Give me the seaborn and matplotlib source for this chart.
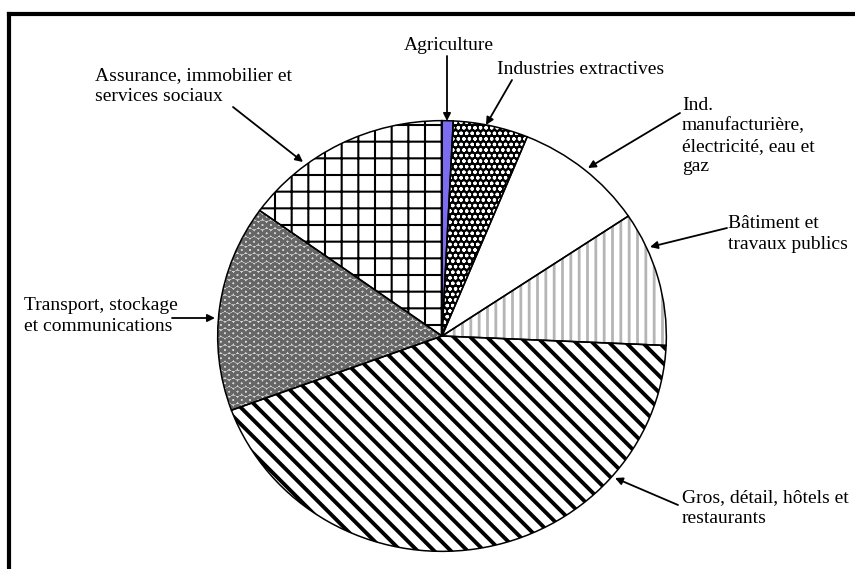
import matplotlib
matplotlib.use("Agg")
import matplotlib.pyplot as plt
import seaborn as sns
from matplotlib.lines import Line2D

sns.set_theme(style="white")
plt.rcParams['font.family'] = ['Liberation Serif', 'DejaVu Serif']

# ---- data ----
sectors = ["Agriculture", "Industries extractives",
           "Ind. manufacturière, électricité, eau et gaz",
           "Bâtiment et travaux publics",
           "Gros, détail, hôtels et restaurants",
           "Transport, stockage et communications",
           "Assurance, immobilier et services sociaux"]
shares = [0.8, 5.4, 9.4, 10.1, 43.7, 15.5, 15.1]
labels = ["Agriculture", "Industries extractives",
          "Ind.\nmanufacturière,\nélectricité, eau et\ngaz",
          "Bâtiment et\ntravaux publics",
          "Gros, détail, hôtels et\nrestaurants",
          "Transport, stockage\net communications",
          "Assurance, immobilier et\nservices sociaux"]

faces = ["#7b6cf0", "black", "white", "white", "white", "#d6d6d6", "white"]
hatches = [None, "ooo", None, "||", "\\\\", "OO", "+"]
hatch_cols = ["#7b6cf0", "white", "white", "#b5b5b5", "black", "#666666", "black"]
hatch_lws = [1.0, 0.9, 1.0, 2.0, 2.8, 2.0, 1.5]

W, H = 855, 569
fig = plt.figure(figsize=(W / 100, H / 100), dpi=100)
fig.patch.set_facecolor("white")

# pie axes (slightly elliptical like the reference)
cx, cy, rx, ry = 442, 336, 225, 216
ax = fig.add_axes([(cx - rx) / W, (H - cy - ry) / H, 2 * rx / W, 2 * ry / H])
wedges, _ = ax.pie(shares, startangle=90, counterclock=False, radius=1,
                   colors=faces, wedgeprops=dict(linewidth=0))
for w, h, hc, lw in zip(wedges, hatches, hatch_cols, hatch_lws):
    w.set_edgecolor(hc)
    if h:
        w.set_hatch(h)
        if hasattr(w, "set_hatch_linewidth"):
            w.set_hatch_linewidth(lw)
outl, _ = ax.pie(shares, startangle=90, counterclock=False, radius=1,
                 colors=["none"] * len(shares),
                 wedgeprops=dict(linewidth=1.1, edgecolor="black", facecolor="none"))
ax.set_xlim(-1.003, 1.003)
ax.set_ylim(-1.003, 1.003)
ax.set_aspect("auto")
ax.axis("off")

# ---- labels and arrows (figure pixel coordinates, y from top) ----
def fp(x, y):
    return (x, H - y)

text_pos = [(449, 45, "center", "center"),
            (497, 70, "left", "center"),
            (682, 136, "left", "center"),
            (728, 234, "left", "center"),
            (682, 508, "left", "center"),
            (178, 316, "right", "center"),
            (95, 86, "left", "center")]
arrows = [((447, 56), (447, 121)),
          ((512, 80), (486, 125)),
          ((680, 113), (588, 168)),
          ((727, 228), (650, 247)),
          ((678, 505), (615, 478)),
          ((172, 318), (215, 318)),
          ((233, 107), (303, 162))]

for lab, (x, y, ha, va) in zip(labels, text_pos):
    fig.text(x / W, (H - y) / H, lab, ha=ha, va=va, fontsize=14,
             color="black", linespacing=1.25, multialignment="left")

for (t, h) in arrows:
    ax.annotate("", xy=fp(*h), xycoords="figure pixels",
                xytext=fp(*t), textcoords="figure pixels",
                arrowprops=dict(arrowstyle="-|>", color="black", lw=1.3,
                                mutation_scale=11, shrinkA=0, shrinkB=0))

# frame (left and top visible in the reference)
fig.add_artist(Line2D([9 / W, 9 / W], [0, (H - 14) / H], transform=fig.transFigure,
                      color="black", lw=3, solid_capstyle="projecting"))
fig.add_artist(Line2D([9 / W, 1], [(H - 14) / H, (H - 14) / H], transform=fig.transFigure,
                      color="black", lw=3, solid_capstyle="projecting"))

fig.savefig("out.png", dpi=100, facecolor="white")
